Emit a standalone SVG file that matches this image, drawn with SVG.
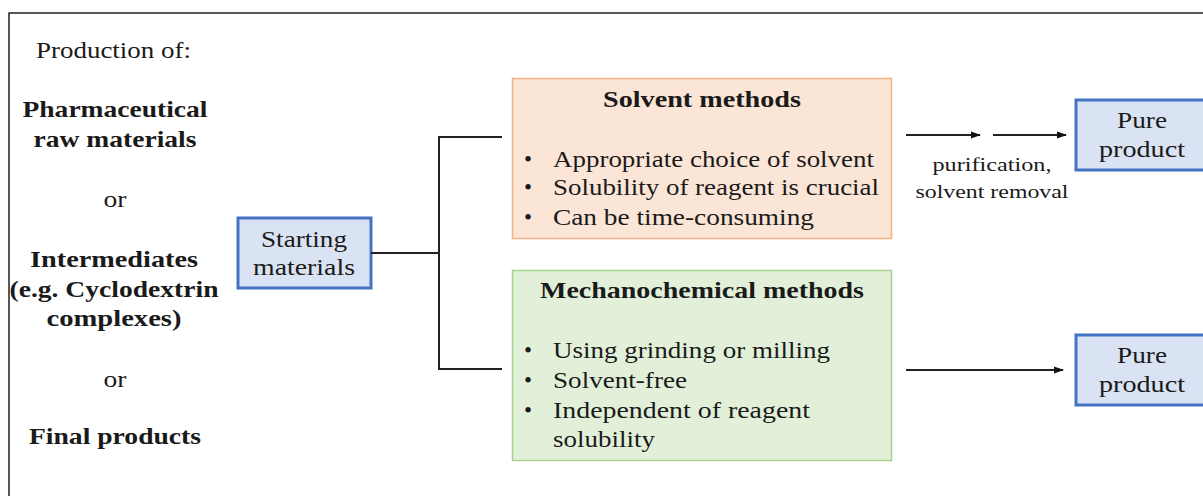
<svg xmlns="http://www.w3.org/2000/svg" width="1203" height="496" viewBox="0 0 1203 496">
<style>
text{font-family:"Liberation Serif","DejaVu Serif",serif;fill:#1a1a1a;font-size:23px}
.b{font-weight:bold}
.c{text-anchor:middle}
.s{font-size:18px}
.blue{fill:#DAE3F3;stroke:#4472C4;stroke-width:3}
.line{fill:none;stroke:#222;stroke-width:2}
</style>
<defs>
<marker id="ah" markerWidth="10" markerHeight="8" refX="9" refY="4" orient="auto" markerUnits="userSpaceOnUse">
<path d="M0,0.5 L10,4 L0,7.5 z" fill="#111"/>
</marker>
</defs>
<rect width="1203" height="496" fill="#fff"/>
<path d="M9,496 V13 H1203" fill="none" stroke="#222" stroke-width="1.5"/>

<g id="left-labels">
<text x="36" y="58" textLength="155" lengthAdjust="spacingAndGlyphs">Production of:</text>
<text class="b c" x="115" y="117" textLength="185" lengthAdjust="spacingAndGlyphs">Pharmaceutical</text>
<text class="b c" x="115" y="147" textLength="163" lengthAdjust="spacingAndGlyphs">raw materials</text>
<text class="c" x="115" y="207" textLength="23" lengthAdjust="spacingAndGlyphs">or</text>
<text class="b c" x="114" y="267" textLength="168" lengthAdjust="spacingAndGlyphs">Intermediates</text>
<text class="b c" x="114" y="297" textLength="209" lengthAdjust="spacingAndGlyphs">(e.g. Cyclodextrin</text>
<text class="b c" x="114" y="326" textLength="135" lengthAdjust="spacingAndGlyphs">complexes)</text>
<text class="c" x="115" y="387" textLength="23" lengthAdjust="spacingAndGlyphs">or</text>
<text class="b c" x="115" y="444" textLength="172" lengthAdjust="spacingAndGlyphs">Final products</text>
</g>

<g id="starting">
<rect class="blue" x="238" y="218" width="133" height="70"/>
<text class="c" x="304" y="247" textLength="86" lengthAdjust="spacingAndGlyphs">Starting</text>
<text class="c" x="304" y="275" textLength="102" lengthAdjust="spacingAndGlyphs">materials</text>
</g>

<g id="solvent">
<rect x="512.5" y="78.5" width="379" height="160" fill="#FBE5D6" stroke="#F4B183" stroke-width="1.5"/>
<text class="b c" x="702" y="107" textLength="198" lengthAdjust="spacingAndGlyphs">Solvent methods</text>
<text x="524" y="167">•</text>
<text x="553" y="167" textLength="321" lengthAdjust="spacingAndGlyphs">Appropriate choice of solvent</text>
<text x="524" y="195">•</text>
<text x="553" y="195" textLength="326" lengthAdjust="spacingAndGlyphs">Solubility of reagent is crucial</text>
<text x="524" y="225">•</text>
<text x="553" y="225" textLength="261" lengthAdjust="spacingAndGlyphs">Can be time-consuming</text>
</g>

<g id="mechano">
<rect x="512.5" y="270.5" width="379" height="190" fill="#E2F0D9" stroke="#A9D18E" stroke-width="1.5"/>
<text class="b c" x="702" y="298" textLength="324" lengthAdjust="spacingAndGlyphs">Mechanochemical methods</text>
<text x="524" y="358">•</text>
<text x="553" y="358" textLength="277" lengthAdjust="spacingAndGlyphs">Using grinding or milling</text>
<text x="524" y="388">•</text>
<text x="553" y="388" textLength="134" lengthAdjust="spacingAndGlyphs">Solvent-free</text>
<text x="524" y="418">•</text>
<text x="553" y="418" textLength="257" lengthAdjust="spacingAndGlyphs">Independent of reagent</text>
<text x="553" y="447" textLength="102" lengthAdjust="spacingAndGlyphs">solubility</text>
</g>

<g id="pure1">
<rect class="blue" x="1076" y="100" width="140" height="70"/>
<text class="c" x="1142" y="128" textLength="50" lengthAdjust="spacingAndGlyphs">Pure</text>
<text class="c" x="1142" y="157" textLength="86" lengthAdjust="spacingAndGlyphs">product</text>
</g>

<g id="pure2">
<rect class="blue" x="1076" y="335" width="140" height="70"/>
<text class="c" x="1142" y="363" textLength="50" lengthAdjust="spacingAndGlyphs">Pure</text>
<text class="c" x="1142" y="392" textLength="86" lengthAdjust="spacingAndGlyphs">product</text>
</g>

<g id="connectors">
<path class="line" d="M371,253 H439 M439,137 V369 M438,137 H502 M438,369 H502"/>
<line class="line" x1="906" y1="135" x2="980" y2="135" marker-end="url(#ah)"/>
<line class="line" x1="993" y1="135" x2="1066" y2="135" marker-end="url(#ah)"/>
<line class="line" x1="906" y1="370" x2="1063" y2="370" marker-end="url(#ah)"/>
<text class="s c" x="992" y="171" textLength="119" lengthAdjust="spacingAndGlyphs">purification,</text>
<text class="s c" x="992" y="198" textLength="153" lengthAdjust="spacingAndGlyphs">solvent removal</text>
</g>
</svg>
